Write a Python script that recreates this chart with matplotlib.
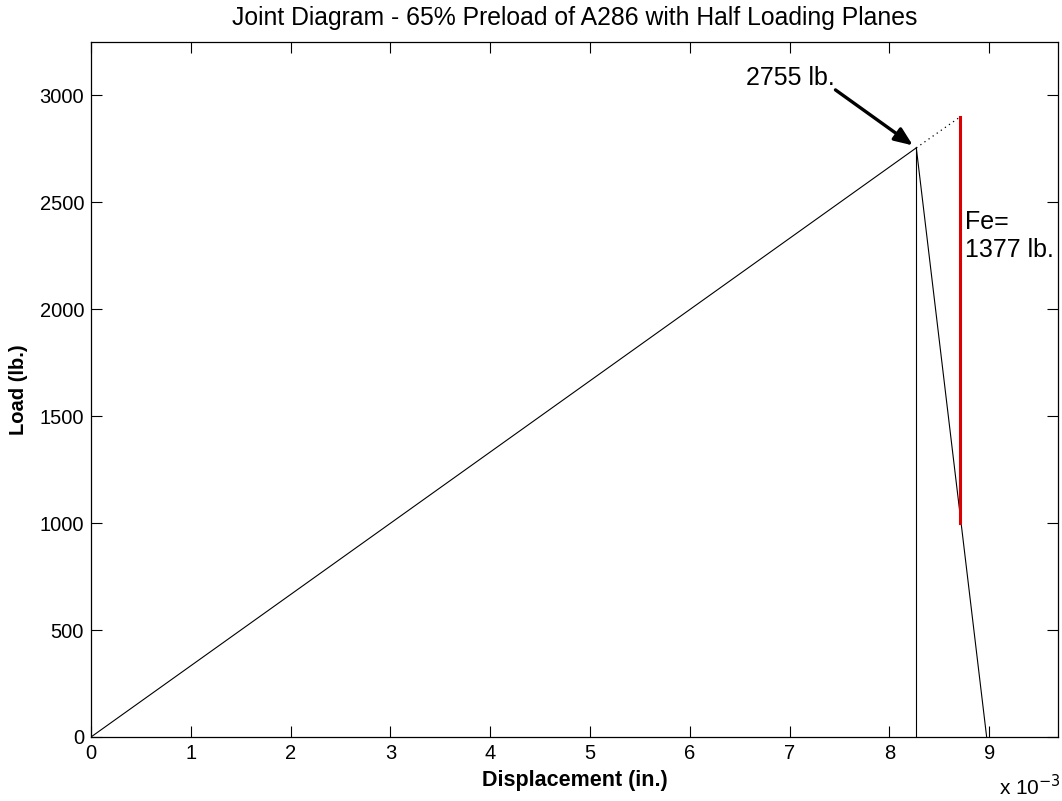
import matplotlib
matplotlib.use("Agg")
import matplotlib.pyplot as plt
from matplotlib.ticker import FuncFormatter, MultipleLocator

plt.rcParams['font.family'] = ['Liberation Sans', 'DejaVu Sans']

# Joint diagram values (displacement in inches, load in lb)
bolt_disp = [0.0, 0.00827]
bolt_load = [0.0, 2755.0]
member_disp = [0.00827, 0.008975]
member_load = [2755.0, 0.0]
preload_disp = [0.00827, 0.00827]
preload_load = [0.0, 2755.0]
ext_disp = [0.00827, 0.00871]
ext_load = [2755.0, 2900.0]
fe_disp = [0.00871, 0.00871]
fe_load = [1000.0, 2900.0]
preload_label = "2755 lb."
fe_label = "Fe=\n1377 lb."

fig = plt.figure(figsize=(10.62, 8.01), dpi=100)
ax = fig.add_axes([91/1062, 1 - 737/801, (1058-91)/1062, (737-42)/801])

ax.plot(bolt_disp, bolt_load, color='black', lw=0.8)
ax.plot(member_disp, member_load, color='black', lw=0.8)
ax.plot(preload_disp, preload_load, color='black', lw=0.8)
ax.plot(ext_disp, ext_load, color='black', lw=0.9, linestyle=(0, (1, 3)))
ax.plot(fe_disp, fe_load, color='#dd0000', lw=2.2)

# Callout for the preload point
ax.text(0.00701, 3082, preload_label, fontsize=18, ha='center', va='center')
ax.annotate("", xy=(bolt_disp[1], bolt_load[1]), xytext=(0.00746, 3026),
            arrowprops=dict(arrowstyle='-|>,head_length=1.1,head_width=0.45',
                            color='black', lw=2.4, shrinkA=0, shrinkB=3))
ax.text(0.00876, 2343, fe_label, fontsize=18, ha='left', va='center',
        linespacing=1.2)

ax.set_xlim(0, 0.00969)
ax.set_ylim(0, 3250)
ax.xaxis.set_major_locator(MultipleLocator(0.001))
ax.yaxis.set_major_locator(MultipleLocator(500))
ax.xaxis.set_major_formatter(FuncFormatter(lambda v, p: f"{v*1000:.0f}"))
ax.tick_params(direction='in', length=8, width=0.8, top=True, right=True,
               labelsize=14.5, pad=5)
for s in ax.spines.values():
    s.set_linewidth(0.9)

ax.set_title("Joint Diagram - 65% Preload of A286 with Half Loading Planes",
             fontsize=17.8, pad=12)
ax.set_xlabel("Displacement (in.)", fontsize=15.5, fontweight='bold', labelpad=5)
ax.set_ylabel("Load (lb.)", fontsize=14.5, fontweight='bold', labelpad=8)
fig.text(1030/1062, 1 - 787/801, r"x 10$^{-3}$", fontsize=15, ha='center',
         va='center')

fig.savefig("out.png", dpi=100)
